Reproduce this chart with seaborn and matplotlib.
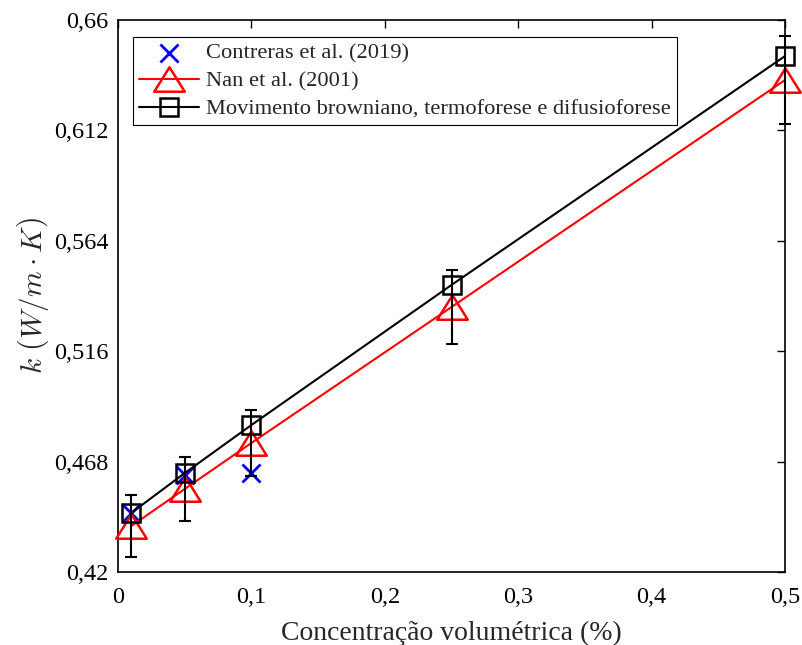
import matplotlib
matplotlib.use("Agg")
import matplotlib.pyplot as plt
from matplotlib.path import Path
from matplotlib.ticker import FixedLocator, FixedFormatter
import seaborn as sns
import pandas as pd
import numpy as np

# ---- data ----
conc = [0.01, 0.05, 0.1, 0.25, 0.5]
contreras_x = [0.01, 0.05, 0.1]
contreras_k = [0.4457, 0.4622, 0.4630]
nan_k = [0.4400, 0.4561, 0.4761, 0.5352, 0.6339]
nan_err = [0.0135, 0.0139, 0.0143, 0.0160, 0.0190]
mov_k = [0.4457, 0.4630, 0.4839, 0.5448, 0.6443]
xticks = [0, 0.1, 0.2, 0.3, 0.4, 0.5]
xticklabels = ["0", "0,1", "0,2", "0,3", "0,4", "0,5"]
yticks = [0.42, 0.468, 0.516, 0.564, 0.612, 0.66]
yticklabels = ["0,42", "0,468", "0,516", "0,564", "0,612", "0,66"]

sns.set_style("white")
plt.rcParams["font.family"] = ["Liberation Serif", "DejaVu Serif"]
plt.rcParams["mathtext.fontset"] = "cm"

fig = plt.figure(figsize=(8.02, 6.45), dpi=100)
ax = fig.add_axes([118/802, 1-572/645, (785-118)/802, (572-20)/645])

tri = Path([(0, 0.8), (-1, -0.8), (1, -0.8), (0, 0.8)],
           [Path.MOVETO, Path.LINETO, Path.LINETO, Path.CLOSEPOLY])

df_nan = pd.DataFrame({"x": conc, "k": nan_k})
df_mov = pd.DataFrame({"x": conc, "k": mov_k})
df_con = pd.DataFrame({"x": contreras_x, "k": contreras_k})

sns.scatterplot(data=df_con, x="x", y="k", ax=ax, marker="x", color=(0, 0, 1),
                s=13**2, linewidths=2.0, label="Contreras et al. (2019)", zorder=3,
                clip_on=False)
sns.lineplot(data=df_nan, x="x", y="k", ax=ax, color=(1, 0, 0), linewidth=1.5,
             marker=tri, markersize=22, markerfacecolor="none",
             markeredgecolor=(1, 0, 0), markeredgewidth=1.8,
             label="Nan et al. (2001)", zorder=4, clip_on=False)
eb = ax.errorbar(conc, nan_k, yerr=nan_err, fmt="none", ecolor="black",
                 elinewidth=1.5, capsize=4.5, capthick=1.5, zorder=5)
for art in eb.lines[1] + eb.lines[2]:
    art.set_clip_on(False)
sns.lineplot(data=df_mov, x="x", y="k", ax=ax, color="black", linewidth=1.5,
             marker="s", markersize=13, markerfacecolor="none",
             markeredgecolor="black", markeredgewidth=1.8,
             label="Movimento browniano, termoforese e difusioforese", zorder=6,
             clip_on=False)

ax.set_xlim(0, 0.5)
ax.set_ylim(0.42, 0.66)
ax.xaxis.set_major_locator(FixedLocator(xticks))
ax.xaxis.set_major_formatter(FixedFormatter(xticklabels))
ax.yaxis.set_major_locator(FixedLocator(yticks))
ax.yaxis.set_major_formatter(FixedFormatter(yticklabels))
ax.tick_params(direction="in", length=5.5, width=1.0, labelsize=17.5,
               top=True, right=True, colors="black")
ax.tick_params(axis="x", pad=11)
ax.tick_params(axis="y", pad=7)
for sp in ax.spines.values():
    sp.set_visible(True)
    sp.set_color("black")
    sp.set_linewidth(1.2)

ax.set_xlabel("Concentração volumétrica (%)", fontsize=20, labelpad=9)
ax.set_ylabel(r"$k\ \left(W/m \cdot K\right)$", fontsize=21, labelpad=2)

leg = ax.legend(loc="upper left", bbox_to_anchor=(0.0225, 0.969), fontsize=16.2,
                frameon=True, fancybox=False, framealpha=1, edgecolor="black",
                handlelength=2.7, handletextpad=0.3, borderpad=0.25,
                labelspacing=0.32, borderaxespad=0)
leg.get_frame().set_linewidth(0.8)

fig.savefig("out.png", dpi=100)
